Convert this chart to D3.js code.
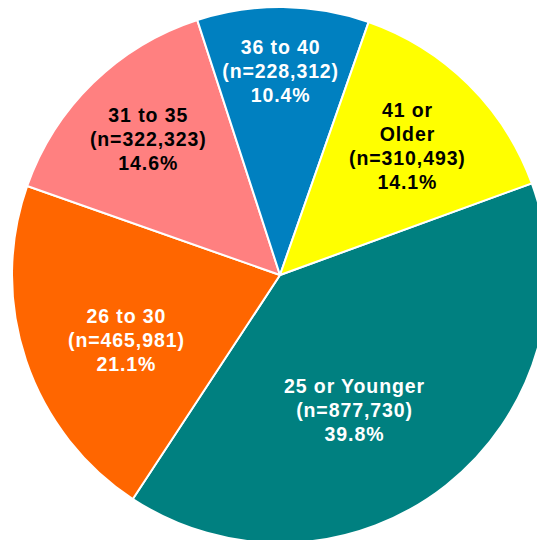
<!DOCTYPE html>
<html>
<head>
<meta charset="utf-8">
<script src="https://cdn.jsdelivr.net/npm/d3@7"></script>
<style>
  html, body { margin: 0; padding: 0; background: #fff; }
  svg { display: block; }
</style>
</head>
<body>
<div class="piechart"></div>
<script>
// data, in the order the slices run clockwise
const categories = ["25 or Younger", "26 to 30", "31 to 35", "36 to 40", "41 or Older"];
const labelLines = [["25 or Younger"], ["26 to 30"], ["31 to 35"], ["36 to 40"], ["41 or", "Older"]];
const counts = [877730, 465981, 322323, 228312, 310493];
const colors = ["#008080", "#FF6600", "#FF8080", "#0080C0", "#FFFF00"];
const textColors = ["#fff", "#fff", "#000", "#fff", "#000"];

const width = 537, height = 540;
const cx = 280, cy = 275, radius = 268;
const firstSliceAngle = 70; // degrees clockwise from 12 o'clock
// label placement: distance from centre and angle nudge (deg) per slice
const labelPos = [
  { r: 154, da: 9.6 },
  { r: 167, da: -4.1 },
  { r: 190, da: 0.2 },
  { r: 204, da: -0.6 },
  { r: 181, da: -0.1 }
];
const lineHeight = 24;

const total = d3.sum(counts);
const fmtN = d3.format(",");
const fmtPct = d3.format(".1%");

const svg = d3.select(".piechart")
  .append("svg")
  .attr("width", width)
  .attr("height", height)
  .append("g")
  .attr("transform", `translate(${cx},${cy})`);

const start = firstSliceAngle * Math.PI / 180;
const pie = d3.pie().sort(null).value(d => d).startAngle(start).endAngle(start + 2 * Math.PI);
const arcs = pie(counts);
const segment = d3.arc().innerRadius(0).outerRadius(radius);

svg.selectAll("path")
  .data(arcs)
  .enter()
  .append("path")
  .attr("d", segment)
  .attr("fill", (d, i) => colors[i])
  .attr("stroke", "#fff")
  .attr("stroke-width", 2)
  .attr("stroke-linejoin", "round");

const labels = svg.selectAll("g.label")
  .data(arcs)
  .enter()
  .append("g")
  .attr("class", "label")
  .attr("transform", (d, i) => {
    const a = (d.startAngle + d.endAngle) / 2 + labelPos[i].da * Math.PI / 180;
    const r = labelPos[i].r;
    return `translate(${r * Math.sin(a)},${-r * Math.cos(a)})`;
  });

labels.each(function(d, i) {
  const lines = labelLines[i].concat([`(n=${fmtN(counts[i])})`, fmtPct(counts[i] / total)]);
  const top = -(lines.length - 1) / 2 * lineHeight + 7;
  d3.select(this).selectAll("text")
    .data(lines)
    .enter()
    .append("text")
    .text(t => t)
    .attr("x", 0.45)
    .attr("y", (t, j) => top + j * lineHeight)
    .attr("text-anchor", "middle")
    .style("font-family", "'Liberation Sans', Arial, sans-serif")
    .style("font-weight", "bold")
    .style("font-size", "19.5px")
    .style("letter-spacing", "0.9px")
    .style("fill", textColors[i]);
});
</script>
</body>
</html>
